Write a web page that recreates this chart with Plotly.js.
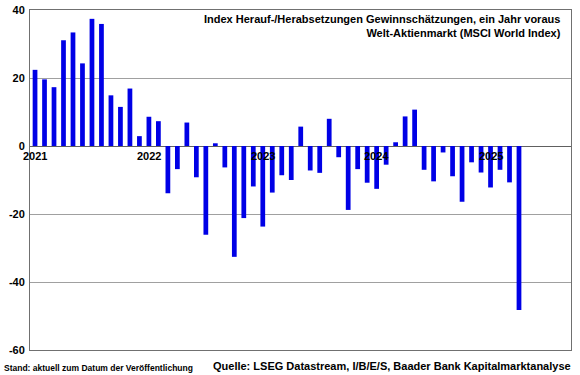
<!DOCTYPE html>
<html>
<head>
<meta charset="utf-8">
<script src="https://cdn.plot.ly/plotly-3.0.1.min.js"></script>
<style>html,body{margin:0;padding:0;background:#fff;}#chart{width:580px;height:375px;}</style>
</head>
<body>
<div id="chart"></div>
<script>
// Monthly index values, Jan 2021 - Apr 2025
const startYear = 2021;
const values = [
  22.4, 19.6, 17.3, 31.1, 33.4, 24.3, 37.4, 35.9, 14.9, 11.5, 16.9, 2.9,
  8.6, 7.3, -13.9, -6.8, 6.9, -9.2, -26.1, 0.8, -6.3, -32.6, -21.2, -11.9,
  -23.7, -13.7, -8.6, -10.0, 5.7, -7.2, -7.9, 8.0, -3.3, -18.8, -6.8, -10.8,
  -12.6, -5.5, 1.1, 8.7, 10.7, -7.0, -10.4, -1.9, -8.9, -16.4, -4.8, -7.8,
  -12.2, -7.0, -10.7, -48.2
];
const yearLabels = ['2021', '2022', '2023', '2024', '2025'];
const yTicks = [-60, -40, -20, 0, 20, 40];

const titleLines = ['Index Herauf-/Herabsetzungen Gewinnschätzungen, ein Jahr voraus', 'Welt-Aktienmarkt (MSCI World Index)'];
const standText = 'Stand: aktuell zum Datum der Veröffentlichung';
const sourceText = 'Quelle: LSEG Datastream, I/B/E/S, Baader Bank Kapitalmarktanalyse';

const xIdx = values.map((v, i) => i);
const monthNames = values.map((v, i) => (startYear + Math.floor(i / 12)) + '-' + String(i % 12 + 1).padStart(2, '0'));

const FONT = 'Arial, "Liberation Sans", sans-serif';

const trace = {
  type: 'bar',
  x: xIdx,
  y: values,
  customdata: monthNames,
  hovertemplate: '%{customdata}: %{y}<extra></extra>',
  marker: { color: '#0000E6', line: { width: 0 } },
  width: 0.5
};

const annotations = yearLabels.map((t, k) => ({
  x: k * 12, y: 0, xref: 'x', yref: 'y',
  text: '<b>' + t + '</b>', showarrow: false,
  xanchor: 'center', yanchor: 'top', yshift: -2,
  font: { family: FONT, size: 11, color: '#000' }
}));
annotations.push({
  x: 1, y: 1, xref: 'paper', yref: 'paper', xanchor: 'right', yanchor: 'top',
  xshift: -8, yshift: -1, align: 'right', showarrow: false,
  text: titleLines.map(s => '<b>' + s + '</b>').join('<br>'),
  font: { family: FONT, size: 11, color: '#000' }
});
annotations.push({
  x: 0, y: 0, xref: 'paper', yref: 'paper', showarrow: false,
  text: '<b>' + standText + '</b>',
  xanchor: 'left', yanchor: 'top', xshift: -28, yshift: -11,
  font: { family: FONT, size: 8.5, color: '#000' }
});
annotations.push({
  x: 1, y: 0, xref: 'paper', yref: 'paper', showarrow: false,
  text: '<b>' + sourceText + '</b>',
  xanchor: 'right', yanchor: 'top', yshift: -8, xshift: 2,
  font: { family: FONT, size: 11, color: '#000' }
});

const layout = {
  width: 580, height: 375,
  margin: { l: 30, r: 9, t: 10, b: 25, pad: 0 },
  paper_bgcolor: '#fff', plot_bgcolor: '#fff',
  showlegend: false,
  bargap: 0.5,
  xaxis: {
    range: [-0.53, 56.48],
    showticklabels: false, ticks: '', showgrid: false, zeroline: false,
    showline: true, linecolor: '#707070', linewidth: 1, mirror: true
  },
  yaxis: {
    range: [-60, 40],
    tickvals: yTicks, ticktext: yTicks.map(String),
    tickfont: { family: FONT, size: 11, color: '#000', weight: 'bold' },
    ticks: '', ticklabelstandoff: 2,
    showgrid: true, gridcolor: '#A0A0A0', gridwidth: 1,
    zeroline: true, zerolinecolor: '#606060', zerolinewidth: 1,
    showline: true, linecolor: '#707070', linewidth: 1, mirror: true
  },
  annotations: annotations,
  font: { family: FONT }
};

Plotly.newPlot('chart', [trace], layout, { displayModeBar: false, staticPlot: true });
</script>
</body>
</html>
